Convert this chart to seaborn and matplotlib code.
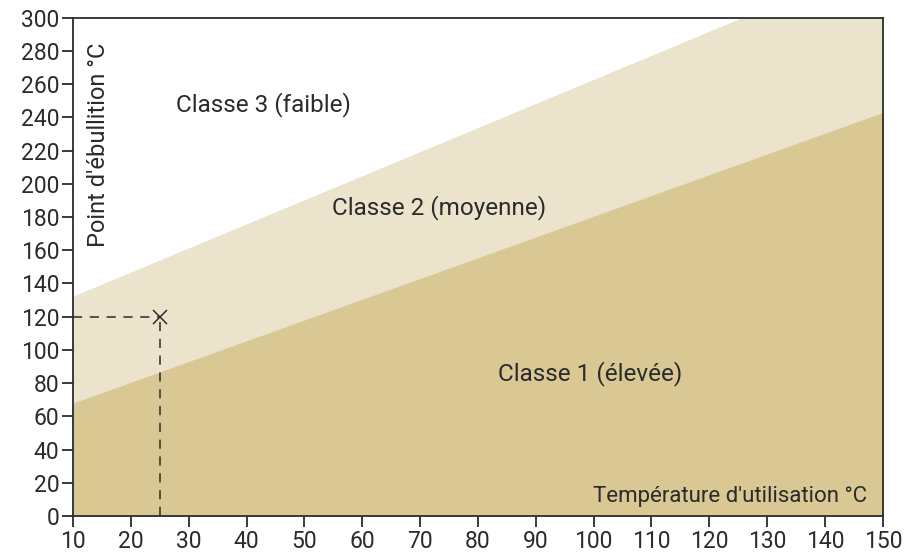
import numpy as np
import matplotlib
matplotlib.use("Agg")
import matplotlib.pyplot as plt
import seaborn as sns

# boundary lines between the classes
temp = [10, 150]
lower_bound = [68, 243]    # classe 1 / classe 2
upper_bound = [132, 335]   # classe 2 / classe 3

point_x = 25
point_y = 120

xticks = list(range(10, 151, 10))
yticks = list(range(0, 301, 20))

light = "#ebe3cb"
dark = "#d9c794"
ink = "#2b2b2b"

sns.set_style("ticks")
plt.rcParams['font.family'] = ['Roboto', 'DejaVu Sans']

fig, ax = plt.subplots(figsize=(9.13, 5.56), dpi=100)
fig.subplots_adjust(left=0.080, right=0.967, top=0.968, bottom=0.072)

ax.fill_between(temp, 0, upper_bound, color=light, lw=0, zorder=1)
ax.fill_between(temp, 0, lower_bound, color=dark, lw=0, zorder=2)

# point and dashed guide lines
ax.plot([temp[0], point_x], [point_y, point_y], color=ink, lw=1.1,
        linestyle=(0, (6, 5)), zorder=3)
ax.plot([point_x, point_x], [0, point_y], color=ink, lw=1.1,
        linestyle=(0, (6, 5)), zorder=3)
ax.plot(point_x, point_y, marker="x", color=ink, ms=10, mew=1.1, zorder=4)

ax.text(42.9, 247.5, "Classe 3 (faible)", fontsize=17.5, color=ink, ha="center", va="center")
ax.text(73.3, 186, "Classe 2 (moyenne)", fontsize=17.5, color=ink, ha="center", va="center")
ax.text(99.4, 86, "Classe 1 (élevée)", fontsize=17.5, color=ink, ha="center", va="center")

ax.text(0.981, 0.04, "Température d'utilisation °C", transform=ax.transAxes,
        fontsize=16, color=ink, ha="right", va="center")
ax.text(0.031, 0.745, "Point d'ébullition °C", transform=ax.transAxes,
        fontsize=17, color=ink, ha="center", va="center", rotation=90)

ax.set_xlim(10, 150)
ax.set_ylim(0, 300)
ax.set_xticks(xticks)
ax.set_yticks(yticks)
ax.tick_params(axis="both", labelsize=16.5, colors=ink, length=8, width=1.3, pad=2)
for s in ax.spines.values():
    s.set_color(ink)
    s.set_linewidth(1.3)
ax.set_xlabel("")
ax.set_ylabel("")

fig.savefig("out.png", dpi=100)
